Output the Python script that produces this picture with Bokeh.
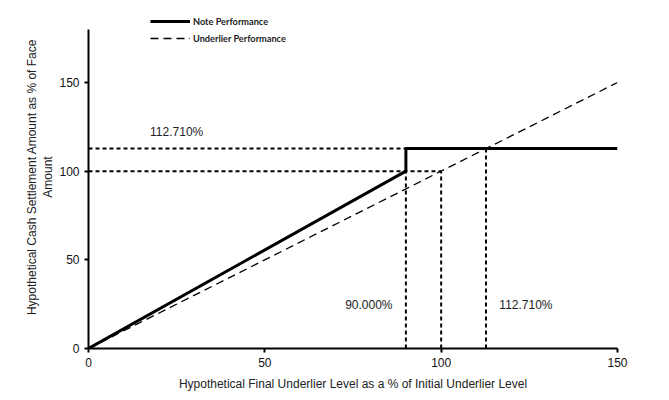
from bokeh.plotting import figure
from bokeh.models import Range1d, Legend, LegendItem, Label, FixedTicker
from bokeh.embed import file_html
from bokeh.resources import INLINE

# Data
note_x = [0, 90, 90, 150]
note_y = [0, 100, 112.71, 112.71]
under_x = [0, 150]
under_y = [0, 150]
knee_x = 90
par_x = 100
par_y = 100
cap_level = 112.71
ticks = [0, 50, 100, 150]
y_axis_max = 180
label_cap = "112.710%"
label_knee = "90.000%"
label_cap_x = "112.710%"

FONT = "Liberation Sans"

# frame extends above the y axis end so the legend (above the axis top) is not clipped
p = figure(width=669, height=400, output_backend="svg", toolbar_location=None,
           x_range=Range1d(0, 150), y_range=Range1d(0, 193.4),
           min_border_left=88, min_border_right=52, min_border_top=5, min_border_bottom=52)
p.outline_line_color = None
p.xgrid.visible = False
p.ygrid.visible = False
p.background_fill_color = "white"

for ax in (p.xaxis[0], p.yaxis[0]):
    ax.ticker = FixedTicker(ticks=ticks)
    ax.minor_tick_line_color = None
    ax.axis_line_width = 2
    ax.axis_line_color = "black"
    ax.major_tick_line_width = 2
    ax.major_tick_line_color = "black"
    ax.major_tick_out = 4
    ax.major_tick_in = 0
    ax.major_label_text_font = FONT
    ax.major_label_text_font_size = "12px"
    ax.major_label_text_color = "#111111"
    ax.axis_label_text_font = FONT
    ax.axis_label_text_font_size = "12px"
    ax.axis_label_text_font_style = "normal"
    ax.axis_label_text_color = "#222222"

p.yaxis.bounds = (0, y_axis_max)
p.yaxis.axis_label = "Hypothetical Cash Settlement Amount as % of Face\nAmount"
p.xaxis.axis_label = "Hypothetical Final Underlier Level as a % of Initial Underlier Level"
p.xaxis.major_label_standoff = 5
p.yaxis.major_label_standoff = 5
p.xaxis.axis_label_standoff = 7
p.yaxis.axis_label_standoff = 1

guide_kw = dict(line_color="black", line_width=2, line_dash="4 3")
p.line([0, knee_x], [cap_level, cap_level], **guide_kw)
p.line([0, par_x], [par_y, par_y], **guide_kw)
p.line([knee_x, knee_x], [0, par_y], **guide_kw)
p.line([par_x, par_x], [0, par_y], **guide_kw)
p.line([cap_level, cap_level], [0, cap_level], **guide_kw)

r_under = p.line(under_x, under_y, line_color="black", line_width=1.3, line_dash="8 5")
r_note = p.line(note_x, note_y, line_color="black", line_width=3)

p.add_layout(Label(x=25, y=122, text=label_cap, text_font=FONT, text_font_size="12px",
                   text_color="#222222", text_align="center", text_baseline="middle"))
p.add_layout(Label(x=86.2, y=24.3, text=label_knee, text_font=FONT, text_font_size="12px",
                   text_color="#222222", text_align="right", text_baseline="middle"))
p.add_layout(Label(x=116.5, y=24.3, text=label_cap_x, text_font=FONT, text_font_size="12px",
                   text_color="#222222", text_align="left", text_baseline="middle"))

legend = Legend(items=[LegendItem(label="Note Performance", renderers=[r_note]),
                       LegendItem(label="Underlier Performance", renderers=[r_under])],
                location=(62, 303), padding=0, margin=0, spacing=3,
                glyph_width=40, glyph_height=14, label_height=14, label_standoff=3,
                label_text_font="Lato", label_text_font_size="9.2px", label_text_font_style="bold",
                label_text_color="#222222",
                border_line_color=None, background_fill_alpha=0)
p.add_layout(legend, "center")

open("out.html", "w").write(file_html(p, INLINE))
